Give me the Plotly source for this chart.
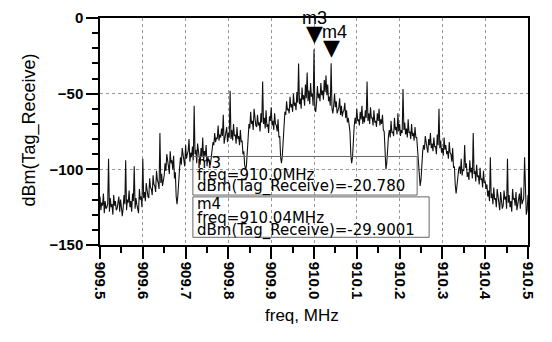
import numpy as np
import plotly.graph_objects as go

# frequency span (MHz); samples every 0.002 MHz
f_start, f_stop = 909.5, 910.5

# dBm(Tag_Receive): upper samples (every 0.004 MHz), five pieces
seg1 = [-118, -122, -116, -121, -125, -93, -119, -123, -117, -121, -126, -118, -120,
        -131, -117, -94, -120, -114, -121, -116, -98, -119, -126, -113, -118, -93,
        -115, -109, -118, -106, -113, -104, -111, -101, -109, -76, -103, -107,
        -96, -90, -98, -88, -94, -91, -102, -123, -104]
seg2 = [-92, -86, -95, -84, -90, -80, -89, -85, -58, -87, -83, -91, -86, -79, -88, -84, -92,
        -96, -90,
        -82, -76, -79, -71, -77, -73, -64, -78, -72, -76, -48, -74, -70, -77, -72, -78, -74, -81, -88,
        -100, -84]
seg3 = [-70, -62, -68, -60, -71, -64, -69, -63, -42, -66, -61, -70, -65, -59, -68, -63, -71, -67, -78,
        -96, -80,
        -62, -55, -60, -52, -57, -50, -56, -49, -30, -53, -46, -51, -44, -36, -48, -43, -50,
        -20.78, -62, -45, -50, -43, -48, -41, -38, -44, -52, -29.9, -63, -50]
seg4 = [-55, -60, -53, -58, -62, -56, -61, -66, -75,
        -96, -78,
        -66, -60, -67, -62, -58, -65, -61, -42, -63, -59, -66, -61, -68, -63, -60, -67, -64, -75,
        -100, -83,
        -74, -68, -75, -66, -72, -63, -70, -74, -47, -69, -73, -67, -75, -70, -76, -72, -79, -92,
        -111, -95]
seg5 = [-84, -78, -86, -80, -76, -83, -79, -85, -77, -60, -81, -86, -79, -84, -88, -82, -90, -86, -98,
        -116, -102,
        -98, -93, -100, -84, -96, -102, -94, -99, -76, -101, -97, -104, -99, -106, -101, -108,
        -110, -114, -92, -116, -112, -119, -113, -121, -115, -126, -114, -118, -93, -117, -121,
        -113, -119, -115, -122, -116, -112, -120, -92, -130, -117]

tseg1 = [-127, -124, -129, -126, -123, -128, -125, -130, -124, -127, -122, -128, -125,
         -126, -123, -127, -122, -125, -128, -121, -126, -123, -129, -120, -125, -119,
         -121, -114, -119, -112, -117, -110, -115, -107, -113, -109, -111, -104,
         -101, -97, -103, -96, -100, -106, -118, -117, -99]
tseg2 = [-97, -91, -98, -93, -88, -95, -92, -94, -90, -96, -89, -97, -92, -94, -91, -98, -95,
         -97, -88,
         -84, -82, -80, -81, -79, -78, -83, -77, -82, -79, -80, -81, -78, -83, -80, -84, -82, -90, -97,
         -98, -80]
tseg3 = [-73, -70, -74, -68, -72, -71, -75, -69, -70, -73, -72, -76, -68, -71, -74, -70, -75, -79, -92,
         -91, -70,
         -64, -61, -63, -59, -62, -58, -61, -56, -57, -60, -54, -58, -53, -55, -57, -52, -58,
         -60, -56, -53, -55, -51, -54, -49, -51, -55, -58, -60, -58, -59]
tseg4 = [-63, -59, -64, -65, -61, -66, -69, -74, -90,
         -92, -71,
         -70, -68, -71, -67, -70, -69, -66, -68, -70, -66, -71, -69, -72, -68, -71, -70, -74, -91,
         -96, -78,
         -79, -76, -78, -74, -77, -75, -78, -76, -74, -77, -79, -76, -80, -78, -81, -79, -88, -104,
         -107, -88]
tseg5 = [-87, -85, -89, -84, -86, -88, -85, -90, -84, -86, -89, -91, -87, -90, -93, -89, -95, -99, -110,
         -111, -100,
         -103, -104, -101, -99, -105, -107, -102, -106, -103, -108, -105, -110, -107, -112, -109, -113,
         -118, -121, -119, -123, -120, -125, -119, -127, -121, -124, -120, -126, -122, -125, -128, -120,
         -124, -127, -121, -126, -123, -119, -125, -127]

upper = seg1 + seg2 + seg3 + seg4 + seg5
lower = tseg1 + tseg2 + tseg3 + tseg4 + tseg5
level = [v for pair in zip(upper, lower) for v in pair] + [upper[-1]]
freq = np.linspace(f_start, f_stop, len(level))

markers = ["m3", "m4"]
marker_freq = [910.0, 910.04]
marker_val = [-20.78, -29.9001]
marker_val_txt = ["-20.780", "-29.9001"]
marker_freq_txt = ["910.0MHz", "910.04MHz"]

x_ticks = [909.5, 909.6, 909.7, 909.8, 909.9, 910.0, 910.1, 910.2, 910.3, 910.4, 910.5]
y_ticks = [0, -50, -100, -150]

FONT = "Liberation Sans, Arial, sans-serif"
BOXFONT = "DejaVu Sans, sans-serif"

fig = go.Figure()
fig.add_trace(go.Scatter(x=freq, y=level, mode="lines",
                         line=dict(color="#111111", width=1.1), showlegend=False,
                         hoverinfo="skip"))

# marker triangles + names
name_shift = {"m3": 0, "m4": 3}
for name, mx, my in zip(markers, marker_freq, marker_val):
    fig.add_annotation(x=mx, y=my, xref="x", yref="y", text="▼", showarrow=False,
                       yanchor="bottom", yshift=1,
                       font=dict(family="DejaVu Sans", size=22, color="#000"))
    fig.add_annotation(x=mx, y=my, xref="x", yref="y", text=name, showarrow=False,
                       yanchor="bottom", yshift=19, xshift=name_shift[name],
                       font=dict(family=FONT, size=18, color="#000"))

# readout boxes (layout positions in paper units)
box_rects = [(0.217, 0.220, 0.741, 0.390), (0.217, 0.034, 0.769, 0.212)]
line_ys = [(0.360, 0.309, 0.256), (0.180, 0.119, 0.064)]
for name, ftxt, vtxt, rect, ys in zip(markers, marker_freq_txt, marker_val_txt, box_rects, line_ys):
    x0, y0, x1, y1 = rect
    fig.add_shape(type="rect", xref="paper", yref="paper", x0=x0, y0=y0, x1=x1, y1=y1,
                  line=dict(color="#666", width=1), fillcolor="rgba(0,0,0,0)")
    for txt, yy in zip([name, f"freq={ftxt}", f"dBm(Tag_Receive)={vtxt}"], ys):
        fig.add_annotation(xref="paper", yref="paper", x=0.224, y=yy, xanchor="left",
                           yanchor="middle", text=txt, showarrow=False, borderpad=0,
                           font=dict(family=BOXFONT, size=15, color="#000"))

# axis titles
fig.add_annotation(xref="paper", yref="paper", x=0.472, y=-0.309, text="freq, MHz",
                   showarrow=False, xanchor="center", yanchor="middle",
                   font=dict(family=FONT, size=17, color="#000"))
fig.add_annotation(xref="paper", yref="paper", x=-0.164, y=0.508, text="dBm(Tag_Receive)",
                   showarrow=False, xanchor="center", yanchor="middle", textangle=-90,
                   font=dict(family=FONT, size=18, color="#000"))

tickfont = dict(family=FONT, size=15, color="#000", weight="bold")
fig.update_layout(
    width=552, height=342,
    margin=dict(l=100, r=24, t=9, b=97),
    paper_bgcolor="white", plot_bgcolor="white",
    font=dict(family=FONT, color="#000"),
    xaxis=dict(range=[f_start, f_stop], tickvals=x_ticks, tickformat=".1f",
               tickangle=90, ticks="outside", ticklen=12, tickwidth=1.5, tickcolor="#000",
               minor=dict(dtick=0.05, ticks="outside", ticklen=6, tickcolor="#000", showgrid=False),
               showgrid=True, gridcolor="#999", griddash="dot", gridwidth=1,
               showline=True, linecolor="#000", linewidth=1.5, mirror=True,
               tickfont=tickfont, zeroline=False),
    yaxis=dict(range=[-150, 0], tickvals=y_ticks, ticks="outside", ticklen=12, tickwidth=1.5,
               tickcolor="#000",
               minor=dict(dtick=10, ticks="outside", ticklen=6, tickcolor="#000", showgrid=False),
               showgrid=True, gridcolor="#999", griddash="dot", gridwidth=1,
               showline=True, linecolor="#000", linewidth=1.5, mirror=True,
               tickfont=tickfont, zeroline=False),
)

fig.write_html("out.html")
